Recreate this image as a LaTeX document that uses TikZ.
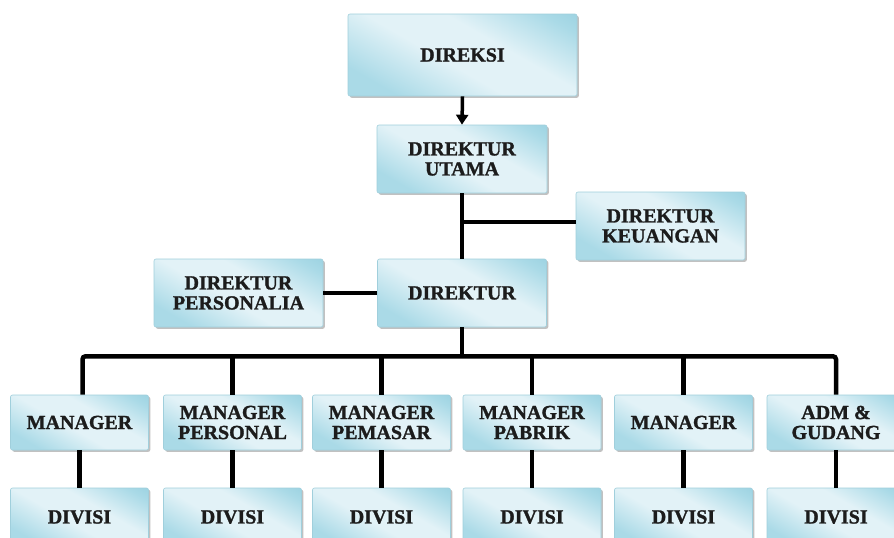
\documentclass[tikz,border=0pt]{standalone}
\usepackage{fontspec}
\setmainfont{Liberation Serif}
\newfontfamily\heavyfont[FakeBold=1.3]{Liberation Serif Bold}
\usetikzlibrary{shadows,arrows.meta}
\definecolor{boxdark}{HTML}{7EC2D5}
\definecolor{boxmid}{HTML}{AADAE7}
\definecolor{boxlight}{HTML}{E2F2F7}
\definecolor{boxedge}{HTML}{A0CFDC}
\definecolor{txt}{HTML}{1C1C1C}
\pgfdeclarehorizontalshading{boxshade}{100bp}{color(0bp)=(boxmid); color(25bp)=(boxmid); color(45bp)=(boxlight); color(60bp)=(boxlight); color(78bp)=(boxmid); color(100bp)=(boxdark)}
\tikzset{
  orgbox/.style={rectangle, rounded corners=2pt, draw=boxedge, line width=0.6pt,
    shading=boxshade, shading angle=60,
    drop shadow={shadow xshift=1.8pt, shadow yshift=-1.8pt, opacity=0.4, fill=black!60},
    align=center, text=txt, inner sep=0pt,
    font=\fontsize{20}{20}\selectfont\heavyfont},
  conn/.style={draw=black, line width=4.5pt},
}
\begin{document}
\begin{tikzpicture}[x=1pt, y=-1pt]
\useasboundingbox[fill=white] (0,0) rectangle (894,538);
% top
\node[orgbox, minimum width=229pt, minimum height=82pt] (direksi) at (462.5,55) {DIREKSI};
\node[orgbox, minimum width=170pt, minimum height=68pt] (utama) at (462,159) {DIREKTUR\\UTAMA};
\node[orgbox, minimum width=169pt, minimum height=68pt] (keuangan) at (660.5,226) {DIREKTUR\\KEUANGAN};
\node[orgbox, minimum width=169pt, minimum height=68pt] (direktur) at (462,293) {DIREKTUR};
\node[orgbox, minimum width=169pt, minimum height=68pt] (personalia) at (238.5,293) {DIREKTUR\\PERSONALIA};
% managers
\foreach \n/\cx/\t in {m1/79.5/MANAGER, m2/232.5/MANAGER\\PERSONAL, m3/381.5/MANAGER\\PEMASAR, m4/532/MANAGER\\PABRIK, m5/683.5/MANAGER, m6/836/ADM \&\\GUDANG}{
  \node[orgbox, minimum width=138pt, minimum height=55pt] (\n) at (\cx,422.5) {\t};
}
\foreach \n/\cx in {d1/79.5, d2/232.5, d3/381.5, d4/532, d5/683.5, d6/836}{
  \node[orgbox, minimum width=138pt, minimum height=58pt] (\n) at (\cx,517) {DIVISI};
}
% connectors
\draw[line width=3.5pt, -{Triangle[length=10pt, width=12pt]}] (direksi.south) -- (utama.north);
\draw[conn] (utama.south) -- (direktur.north);
\coordinate (kj) at ([yshift=4pt]keuangan.west);
\draw[conn] (kj) -- (kj -| utama.south);
\draw[conn] (personalia.east) -- (direktur.west);
\coordinate (bus) at ([yshift=-29pt]direktur.south);
\draw[conn] (direktur.south) -- (bus);
\draw[conn, rounded corners=3pt] ([xshift=3pt]m1.north) |- (bus) -| (m6.north);
\foreach \n in {m2,m3,m4,m5}{
  \draw[conn] (\n.north) -- (\n.north |- bus);
}
\foreach \i in {1,...,6}{
  \draw[conn] (m\i.south) -- (d\i.north);
}
\end{tikzpicture}
\end{document}
